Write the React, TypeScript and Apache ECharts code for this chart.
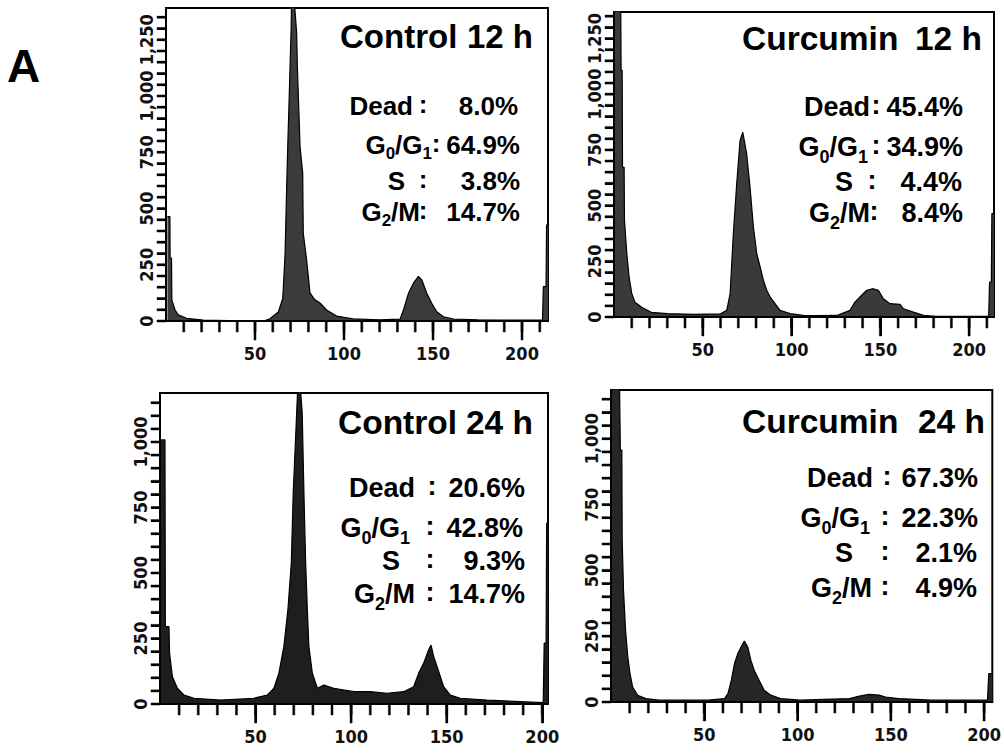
import { useEffect, useRef } from "react";
import * as echarts from "echarts";

// ---------- DATA ----------
// DNA content (channel) vs. cell count, [channel, count]
const control12h: [number, number][] = [
  [0.8, 464], [2.2, 464], [2.3, 280], [3.1, 280], [3.3, 93], [5.1, 49], [6.9, 27], [11.6, 12], [21, 4], [35, 2], [50, 2], [56, 3],
  [58.4, 10], [63.1, 40], [65.6, 100], [66.9, 300], [67.8, 600], [68.4, 775], [69.7, 1131], [70.3, 1300], [70.6, 1450], [71.8, 1450],
  [73.4, 1281], [73.8, 1131], [75.3, 775], [76.8, 658], [77.1, 391], [79, 271], [80.9, 125], [83.5, 95], [86.5, 80], [90.2, 49],
  [95.9, 22], [105, 10], [120, 5], [131.5, 8], [133.4, 49], [136.2, 123], [139, 168], [141.8, 198], [143.7, 183], [146.5, 123],
  [149.3, 79], [152.1, 41], [155.9, 19], [161.5, 9], [175, 5], [190, 4], [205, 4], [211.5, 4], [212, 153], [213.5, 153], [213.8, 427], [214.6, 427],
];
const curcumin12h: [number, number][] = [
  [0.5, 1400], [3.8, 1400], [4.0, 1107], [4.6, 1107], [4.8, 672], [5.7, 672], [5.9, 434], [7.2, 286], [8.5, 179], [10, 106],
  [11.8, 66], [15.6, 44], [21, 21], [30, 15], [45, 12], [60, 14], [63.5, 30], [65.4, 105], [67.2, 374], [69.1, 598], [71, 793],
  [72.5, 830], [74.7, 733], [76.6, 583], [78.5, 404], [80.4, 284], [82.3, 225], [84.1, 165], [86, 120], [87.9, 90], [90.7, 60],
  [93.5, 30], [99.2, 15], [106.7, 7], [115, 6], [125.4, 7], [132.9, 30], [135.7, 67], [138.5, 90], [142.3, 120], [146, 127],
  [148.9, 120], [151.7, 82], [155.4, 60], [161.1, 57], [163, 37], [168.6, 22], [174.3, 7], [181.8, 3], [211, 3], [211.5, 157],
  [212.5, 157], [212.8, 464], [214, 464],
];
const control24h: [number, number][] = [
  [0.5, 1008], [2.6, 1008], [2.8, 295], [4.7, 295], [5, 194], [6.5, 104], [9.1, 60], [12.6, 34], [17.8, 22], [31.7, 15],
  [49.1, 22], [56.1, 34], [59.6, 60], [62.2, 118], [64.8, 219], [66.9, 359], [68.7, 538], [69.7, 805], [71.5, 1111], [72.3, 1250],
  [73, 1250], [74.4, 1111], [75.3, 805], [76.2, 538], [77.1, 359], [77.9, 219], [79.7, 118], [82.3, 60], [85.7, 72], [90.9, 60],
  [101.4, 47], [110.1, 47], [118.8, 41], [127.5, 47], [132.7, 66], [135.3, 117], [137.9, 155], [140.5, 206], [141.8, 225],
  [143.2, 181], [145.8, 124], [148.4, 66], [151.9, 34], [157.1, 22], [171, 15], [188.4, 9], [200.5, 5], [201, 232], [202, 232],
  [202.3, 690], [203, 690],
];
const curcumin24h: [number, number][] = [
  [0.5, 1250], [4.5, 1250], [5, 957], [5.8, 957], [6, 615], [6.7, 425], [7.8, 273], [9, 171], [10.2, 108], [11.6, 57], [14.3, 25],
  [18.7, 13], [25.7, 7], [31, 7], [52.1, 7], [60.9, 13], [62.7, 32], [64.5, 83], [66.2, 146], [68, 184], [69.7, 209], [71.5, 232],
  [73.3, 209], [75, 158], [76.8, 120], [79.4, 83], [82.1, 45], [85.6, 26], [90.9, 13], [101.4, 7], [127.8, 13], [133.1, 22],
  [138.4, 29], [143.7, 26], [147.2, 19], [154.3, 13], [171.9, 7], [201.8, 7], [202.5, 108], [204.4, 108],
];

const panelNames = ["Control", "Curcumin", "Control", "Curcumin"];
const panelTimes = ["12 h", "12 h", "24 h", "24 h"];
// stat rows: [main text, subscript, main text, subscript]
const statLabels = [["Dead"], ["G", "0", "/G", "1"], ["S"], ["G", "2", "/M"]];
const statValues = [
  ["8.0%", "64.9%", "3.8%", "14.7%"],
  ["45.4%", "34.9%", "4.4%", "8.4%"],
  ["20.6%", "42.8%", "9.3%", "14.7%"],
  ["67.3%", "22.3%", "2.1%", "4.9%"],
];
// tick positions
const xMinorTicks12 = [10, 20, 30, 40, 50, 60, 70, 80, 90, 100, 110, 120, 130, 140, 150, 160, 170, 180, 190, 200, 210];
const xMinorTicks24 = [10, 20, 30, 40, 50, 60, 70, 80, 90, 100, 110, 120, 130, 140, 150, 160, 170, 180, 190, 200];
const xMajorTicks = [50, 100, 150, 200];
const yTicks12 = [0, 50, 100, 150, 200, 250, 300, 350, 400, 450, 500, 550, 600, 650, 700, 750, 800, 850, 900, 950, 1000, 1050, 1100, 1150, 1200, 1250, 1300, 1350];
const yTicks24 = [0, 50, 100, 150, 200, 250, 300, 350, 400, 450, 500, 550, 600, 650, 700, 750, 800, 850, 900, 950, 1000, 1050, 1100, 1150];
const xLabelInterval = 50;
const yTickInterval = 50;
const yLabelStep = 250;

// ---------- LAYOUT ----------
const panels = [
  {
    data: control12h, grid: { left: 166, top: 8, width: 382, height: 313 }, xMax: 214.6, yMax: 1391, fill: "#3b3b3b",
    xMinor: xMinorTicks12, yTicks: yTicks12,
    title: { nameX: 340, timeRight: 533, y: 36, size: 33 },
    stats: { size: 26, rows: [[413, 423, 518, 106], [432, 436, 520, 145], [405, 423, 520, 181], [420, 423, 520, 212]] },
  },
  {
    data: curcumin12h, grid: { left: 614, top: 12, width: 380, height: 305 }, xMax: 214, yMax: 1369, fill: "#3a3a3a",
    xMinor: xMinorTicks12, yTicks: yTicks12,
    title: { nameX: 742, timeRight: 982, y: 38, size: 33.5 },
    stats: { size: 27, rows: [[870, 876, 963, 107], [868, 876, 963, 147], [853, 872, 962, 182], [870, 874, 963, 213]] },
  },
  {
    data: control24h, grid: { left: 160, top: 393, width: 388, height: 311 }, xMax: 203, yMax: 1187, fill: "#1e1e1e",
    xMinor: xMinorTicks24, yTicks: yTicks24,
    title: { nameX: 338, timeRight: 533, y: 422, size: 33.5 },
    stats: { size: 27, rows: [[415, 432, 525, 488], [410, 430, 523, 528], [400, 430, 525, 561], [415, 430, 525, 594]] },
  },
  {
    data: curcumin24h, grid: { left: 611, top: 390, width: 387, height: 312 }, xMax: 204.4, yMax: 1185, fill: "#262626",
    xMinor: xMinorTicks24, yTicks: yTicks24,
    title: { nameX: 742, timeRight: 985, y: 421, size: 33.5 },
    stats: { size: 27, rows: [[873, 887, 978, 478], [870, 885, 978, 518], [853, 885, 977, 553], [872, 885, 977, 588]] },
  },
];

const tickFont = "'Liberation Sans Narrow', 'DejaVu Sans Condensed', 'Roboto Condensed', 'Liberation Sans', sans-serif";
const textFont = "'Liberation Sans', Arial, Helvetica, sans-serif";

function fmtThousands(v: number): string {
  return String(v).replace(/\B(?=(\d{3})+(?!\d))/g, ",");
}

export default function App() {
  const ref = useRef<HTMLDivElement>(null);

  useEffect(() => {
    if (!ref.current) return;
    const chart = echarts.init(ref.current, null, { renderer: "svg" });

    const grids: any[] = [];
    const xAxes: any[] = [];
    const yAxes: any[] = [];
    const series: any[] = [];
    const graphics: any[] = [];

    panels.forEach((p, i) => {
      grids.push({ ...p.grid, show: true, borderColor: "#000", borderWidth: 2, backgroundColor: "transparent", z: 0 });
      xAxes.push({
        type: "value", gridIndex: i, min: 0, max: p.xMax, interval: xLabelInterval, position: "bottom",
        axisLine: { show: true, onZero: false, lineStyle: { color: "#000", width: 2 } },
        axisTick: { show: true, length: 19, lineStyle: { color: "#000", width: 2 } },
        axisLabel: {
          show: true, margin: 23, color: "#111", showMinLabel: false, showMaxLabel: false,
          fontSize: 18, fontWeight: "bold", fontFamily: tickFont,
          formatter: (v: number) => (v > 0 && v % xLabelInterval === 0 ? String(v) : ""),
        },
        splitLine: { show: false },
        z: 5,
      });
      yAxes.push({
        type: "value", gridIndex: i, min: 0, max: p.yMax, interval: yTickInterval,
        axisLine: { show: true, onZero: false, lineStyle: { color: "#000", width: 2 } },
        axisTick: { show: true, length: 9, lineStyle: { color: "#000", width: 2 } },
        axisLabel: {
          show: true, rotate: 90, margin: 11, color: "#111", showMaxLabel: false,
          fontSize: 18, fontWeight: "bold", fontFamily: tickFont,
          formatter: (v: number) => (v % yLabelStep === 0 ? fmtThousands(v) : ""),
        },
        splitLine: { show: false },
        z: 5,
      });
      series.push({
        type: "line", xAxisIndex: i, yAxisIndex: i, data: p.data,
        symbol: "none", showSymbol: false, clip: true, silent: true,
        lineStyle: { color: "#000", width: 1.2 },
        areaStyle: { color: p.fill, opacity: 1 },
        z: 1,
      });

      // titles
      graphics.push({
        type: "text", x: p.title.nameX, y: p.title.y, z: 10,
        style: { text: panelNames[i], fontSize: p.title.size, fontWeight: "bold", fontFamily: textFont, fill: "#000", align: "left", verticalAlign: "middle" },
      });
      graphics.push({
        type: "text", x: p.title.timeRight, y: p.title.y, z: 10,
        style: { text: panelTimes[i], fontSize: p.title.size, fontWeight: "bold", fontFamily: textFont, fill: "#000", align: "right", verticalAlign: "middle" },
      });
      // stats
      const F = p.stats.size;
      const fs = Math.round(F * 0.66);
      const rich = {
        m: { fontSize: F, fontWeight: "bold", fontFamily: textFont, fill: "#000", verticalAlign: "top", lineHeight: F },
        s: { fontSize: fs, fontWeight: "bold", fontFamily: textFont, fill: "#000", verticalAlign: "top", padding: [Math.round(F * 0.5), 0, 0, 0] },
      };
      p.stats.rows.forEach((r, k) => {
        const [labRight, colonX, valRight, cy] = r;
        const base = { fontSize: F, fontWeight: "bold", fontFamily: textFont, fill: "#000", verticalAlign: "middle" };
        const parts = statLabels[k];
        const richText = parts.map((t, j) => (j % 2 === 0 ? `{m|${t}}` : `{s|${t}}`)).join("");
        graphics.push({
          type: "text", x: labRight, y: cy - F / 2, z: 10,
          style: { text: richText, rich, align: "right", verticalAlign: "top", fontSize: F, fontWeight: "bold", fontFamily: textFont, fill: "#000" },
        });
        graphics.push({ type: "text", x: colonX, y: cy - 2, z: 10, style: { ...base, text: ":", align: "center" } });
        graphics.push({ type: "text", x: valRight, y: cy, z: 10, style: { ...base, text: statValues[i][k], align: "right" } });
      });
    });

    graphics.push({
      type: "text", x: 7, y: 66, z: 10,
      style: { text: "A", fontSize: 46, fontWeight: "bold", fontFamily: textFont, fill: "#000", align: "left", verticalAlign: "middle" },
    });

    chart.setOption({
      animation: false,
      backgroundColor: "#fff",
      grid: grids,
      xAxis: xAxes,
      yAxis: yAxes,
      series,
    });

    // tick marks as a comb of rects, each placed through the grid's own value->pixel conversion;
    // falls back to the same linear mapping of the axis extent onto the grid rect.
    const toPixel = (i: number, v: [number, number]): [number, number] => {
      let pt: any = null;
      try {
        pt = chart.convertToPixel({ gridIndex: i } as any, v as any);
      } catch (e) {
        pt = null;
      }
      if (pt && isFinite(pt[0]) && isFinite(pt[1])) return [pt[0], pt[1]];
      const g = panels[i].grid;
      return [
        g.left + (v[0] / panels[i].xMax) * g.width,
        g.top + g.height - (v[1] / panels[i].yMax) * g.height,
      ];
    };
    const ticks: any[] = [];
    panels.forEach((p, i) => {
      const xs: [number, number][] = [];
      p.xMinor.forEach((v) => xs.push([v, 11]));
      xMajorTicks.forEach((v) => xs.push([v, 19]));
      xs.forEach(([v, len]) => {
        const pt = toPixel(i, [v, 0]);
        ticks.push({
          type: "group", z: 30,
          children: [{ type: "rect", shape: { x: pt[0] - 1, y: pt[1], width: 2, height: len }, style: { fill: "#000", stroke: "#000", lineWidth: 0.5 }, z: 30 }],
        });
      });
      p.yTicks.forEach((v) => {
        const pt = toPixel(i, [0, v]);
        ticks.push({
          type: "group", z: 30,
          children: [{ type: "rect", shape: { x: pt[0] - 9, y: pt[1] - 1, width: 9, height: 2 }, style: { fill: "#000", stroke: "#000", lineWidth: 0.5 }, z: 30 }],
        });
      });
    });

    chart.setOption({ graphic: { elements: [...graphics, ...ticks] } });

    return () => chart.dispose();
  }, []);

  return (
    <div
      ref={ref}
      style={{ position: "absolute", left: 0, top: 0, width: 1004, height: 754 }}
    />
  );
}
